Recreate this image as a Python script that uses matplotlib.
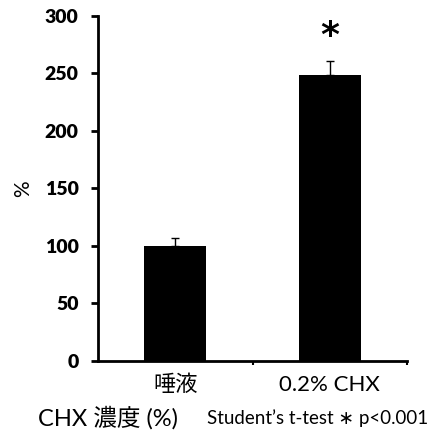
import matplotlib
matplotlib.use("Agg")
import matplotlib.pyplot as plt

categories = ["唾液", "0.2% CHX"]
values = [100, 249]
errors = [7, 12]
yticks = [0, 50, 100, 150, 200, 250, 300]

plt.rcParams['font.family'] = ['Lato', 'Noto Sans CJK JP', 'DejaVu Sans']

fig = plt.figure(figsize=(4.36, 4.30), dpi=100)
ax = fig.add_axes([0.2248, 0.1605, 0.7087, 0.8023])

x = [0, 1]
ax.bar(x, values, width=0.4, color='black', zorder=2)
ax.errorbar(x, values, yerr=[[0, 0], errors], fmt='none', ecolor='black',
            elinewidth=1, capsize=3, capthick=1, zorder=3)

ax.set_xlim(-0.5, 1.5)
ax.set_ylim(0, 300)
ax.set_yticks(yticks)
ax.set_yticklabels([str(t) for t in yticks], fontsize=14, fontweight='heavy')
ax.tick_params(axis='y', direction='out', length=5, width=2, pad=9)

ax.set_xticks([0.5, 1.5], minor=False)
ax.set_xticklabels(['', ''])
ax.tick_params(axis='x', direction='out', length=3, width=1.5)
for i, c in enumerate(categories):
    ax.text(x[i], -12, c, ha='center', va='top', fontsize=16,
            transform=ax.transData)

for s in ['top', 'right']:
    ax.spines[s].set_visible(False)
ax.spines['left'].set_linewidth(2)
ax.spines['bottom'].set_linewidth(2)

ax.set_ylabel('%', fontsize=15, labelpad=8)

ax.text(1, values[1] + errors[1] + 7, '*', ha='center', va='bottom',
        fontsize=26, fontweight='bold', fontfamily='DejaVu Sans')

fig.text(38 / 436, 1 - 418 / 430, 'CHX 濃度 (%)', ha='left', va='center', fontsize=17)
fig.text(428 / 436, 1 - 418 / 430, 'Student\u2019s t-test \u2217 p<0.001', ha='right',
         va='center', fontsize=13.5, family=['Lato', 'DejaVu Sans'])

fig.savefig('out.png', dpi=100)
